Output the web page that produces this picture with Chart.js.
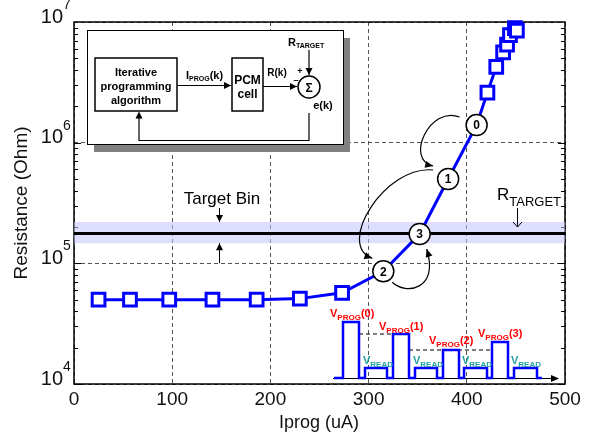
<!DOCTYPE html>
<html>
<head>
<meta charset="utf-8">
<script src="https://cdn.jsdelivr.net/npm/chart.js@4.4.0/dist/chart.umd.min.js"></script>
<style>body{margin:0;background:#fff}</style>
</head>
<body>
<canvas id="chart" width="592" height="437"></canvas>
<script>
// measured points (squares)
const iprogMeas = [25, 57, 97, 141, 186, 230, 273, 421, 430, 437, 441, 444, 449, 451];
const resMeas = [5.0e4, 5.0e4, 5.0e4, 5.0e4, 5.0e4, 5.1e4, 5.7e4, 2.6e6, 4.25e6, 5.6e6, 6.5e6, 7.8e6, 8.9e6, 8.5e6];
// programming iterations k = 0..3 (circles)
const iterLabels = ['0', '1', '2', '3'];
const iterIprog = [410, 381, 315, 352];
const iterRes = [1.4e6, 5.0e5, 8.6e4, 1.75e5];
// target resistance and its bin
const rTarget = 1.77e5;
const binHigh = 2.2e5;
const binLow = 1.47e5;
const xRange = [0, 500];
const yTicks = [1e4, 1e5, 1e6, 1e7];

const FONT = '"Liberation Sans", Arial, sans-serif';

let curve = iprogMeas.map((x, i) => ({x: x, y: resMeas[i], sq: true}))
  .concat(iterIprog.map((x, i) => ({x: x, y: iterRes[i], sq: false})))
  .sort((a, b) => a.x - b.x);

const head = (ctx, x, y, ang, len, w) => {
  ctx.beginPath();
  ctx.moveTo(x, y);
  ctx.lineTo(x - len * Math.cos(ang) + w * Math.sin(ang), y - len * Math.sin(ang) - w * Math.cos(ang));
  ctx.lineTo(x - len * Math.cos(ang) - w * Math.sin(ang), y - len * Math.sin(ang) + w * Math.cos(ang));
  ctx.closePath();
  ctx.fill();
}

// text with subscript pieces: [text, font, dy]
const subText = (ctx, x, y, parts, align) => {
  let w = 0;
  parts.forEach(p => { ctx.font = p[1]; w += ctx.measureText(p[0]).width });
  let cx = align === 'center' ? x - w / 2 : x;
  ctx.textAlign = 'left';
  parts.forEach(p => {
    ctx.font = p[1];
    ctx.fillText(p[0], cx, y + (p[2] || 0));
    cx += ctx.measureText(p[0]).width;
  });
}

const arrowLine = (ctx, x1, y1, x2, y2) => {
  ctx.beginPath(); ctx.moveTo(x1, y1); ctx.lineTo(x2, y2); ctx.stroke();
  head(ctx, x2, y2, Math.atan2(y2 - y1, x2 - x1), 7, 3.5);
}

const curveArrow = (ctx, p0, c1, c2, p1) => {
  ctx.beginPath();
  ctx.moveTo(p0[0], p0[1]);
  ctx.bezierCurveTo(c1[0], c1[1], c2[0], c2[1], p1[0], p1[1]);
  ctx.stroke();
  head(ctx, p1[0], p1[1], Math.atan2(p1[1] - c2[1], p1[0] - c2[0]), 8, 3.5);
}

const deco = {
  id: 'deco',
  beforeDatasetsDraw(chart) {
    const {ctx, chartArea: a, scales: {y}} = chart;
    ctx.save();
    ctx.strokeStyle = '#000';
    ctx.lineWidth = 1;
    for (let d = 4; d < 7; d++) {
      for (let m = 1; m < 10; m++) {
        const py = Math.round(y.getPixelForValue(m * Math.pow(10, d))) + 0.5;
        const len = m === 1 ? 7 : 4;
        ctx.beginPath();
        ctx.moveTo(a.left, py); ctx.lineTo(a.left + len, py);
        ctx.moveTo(a.right, py); ctx.lineTo(a.right - len, py);
        ctx.stroke();
      }
    }
    ctx.lineWidth = 1.5;
    ctx.strokeRect(a.left, a.top, a.right - a.left, a.bottom - a.top);
    ctx.restore();
  },
  afterDatasetsDraw(chart) {
    const {ctx, chartArea: a, scales: {y}} = chart;
    const pts = chart.getDatasetMeta(0).data;
    ctx.save();
    ctx.fillStyle = '#000';
    ctx.font = 'bold 12px ' + FONT;
    ctx.textAlign = 'center';
    ctx.textBaseline = 'middle';
    pts.forEach((p, i) => ctx.fillText(iterLabels[i], p.x, p.y + 1));

    // iteration arrows
    const c = pts.map(p => [p.x, p.y]);
    ctx.strokeStyle = '#000';
    ctx.lineWidth = 1.2;
    curveArrow(ctx, [c[0][0] - 17, c[0][1] - 8], [c[0][0] - 47, c[0][1] - 20], [c[0][0] - 72, c[0][1] + 35], [c[1][0] - 15, c[1][1] - 13]);
    curveArrow(ctx, [c[1][0] - 15, c[1][1] - 9], [c[1][0] - 63, c[1][1] - 14], [c[2][0] - 48, c[2][1] - 26], [c[2][0] - 11, c[2][1] - 13]);
    curveArrow(ctx, [c[2][0] + 9, c[2][1] + 11], [c[2][0] + 22, c[2][1] + 24], [c[3][0] + 20, c[3][1] + 56], [c[3][0] + 7, c[3][1] + 15]);

    // target bin annotation
    const yHi = y.getPixelForValue(binHigh), yLo = y.getPixelForValue(binLow);
    ctx.lineWidth = 1;
    ctx.font = '17px ' + FONT;
    ctx.textBaseline = 'alphabetic';
    ctx.fillText('Target Bin', 222, 204);
    arrowLine(ctx, 219.5, 208, 219.5, yHi);
    arrowLine(ctx, 219.5, yLo + 20, 219.5, yLo);

    subText(ctx, 497, 200, [['R', '17px ' + FONT], ['TARGET', '13px ' + FONT, 6]]);
    ctx.beginPath();
    ctx.moveTo(517.5, 208); ctx.lineTo(517.5, yHi + 5);
    ctx.moveTo(513, yHi); ctx.lineTo(517.5, yHi + 5); ctx.lineTo(522, yHi);
    ctx.stroke();
    ctx.restore();
  },
  afterDraw(chart) {
    const {ctx, chartArea: a, scales: {y}} = chart;
    ctx.save();
    ctx.fillStyle = '#111';
    ctx.textBaseline = 'middle';
    yTicks.forEach(v => {
      const py = y.getPixelForValue(v);
      ctx.font = '20px ' + FONT;
      ctx.textAlign = 'right';
      ctx.fillText('10', 63, py - 5);
      ctx.font = '14px ' + FONT;
      ctx.textAlign = 'left';
      ctx.fillText(String(Math.round(Math.log10(v))), 63, py - 17);
    });
    ctx.textAlign = 'center';
    ctx.font = '18px ' + FONT;
    ctx.fillText('Iprog (uA)', 319, 423);
    ctx.save();
    ctx.translate(22, 203);
    ctx.rotate(-Math.PI / 2);
    ctx.font = '19px ' + FONT;
    ctx.fillText('Resistance (Ohm)', 0, 0);
    ctx.restore();

    // inset: feedback loop block diagram
    ctx.fillStyle = '#808080';
    ctx.fillRect(94, 38, 256, 114);
    ctx.fillStyle = '#fff';
    ctx.fillRect(87, 30, 256, 114);
    ctx.strokeStyle = '#000';
    ctx.lineWidth = 1;
    ctx.strokeRect(87.5, 30.5, 256, 114);
    ctx.lineWidth = 1.5;
    ctx.strokeRect(95, 58, 82, 53);
    ctx.strokeRect(232, 58, 31, 53);
    ctx.beginPath(); ctx.arc(309, 87, 11, 0, Math.PI * 2); ctx.stroke();
    ctx.fillStyle = '#000';
    ctx.textBaseline = 'alphabetic';
    ctx.textAlign = 'center';
    ctx.font = 'bold 11px ' + FONT;
    ctx.fillText('Iterative', 136, 76);
    ctx.fillText('programming', 136, 89.5);
    ctx.fillText('algorithm', 136, 103.5);
    ctx.font = 'bold 12px ' + FONT;
    ctx.fillText('PCM', 247.5, 84);
    ctx.fillText('cell', 247.5, 97.5);
    ctx.fillText('\u03A3', 309, 91.5);
    ctx.lineWidth = 1.2;
    arrowLine(ctx, 177, 85.5, 231, 85.5);
    arrowLine(ctx, 263, 86.5, 297, 86.5);
    arrowLine(ctx, 309, 50, 309, 75);
    ctx.beginPath();
    ctx.moveTo(309, 113); ctx.lineTo(309, 140.5); ctx.lineTo(139, 140.5); ctx.lineTo(139, 118);
    ctx.stroke();
    head(ctx, 139, 111.5, -Math.PI / 2, 7, 3.5);
    subText(ctx, 186, 79, [['I', 'bold 11px ' + FONT], ['PROG', 'bold 7px ' + FONT, 2], ['(k)', 'bold 11px ' + FONT]]);
    ctx.font = 'bold 10px ' + FONT;
    ctx.textAlign = 'center';
    ctx.fillText('R(k)', 277, 76);
    ctx.font = 'bold 11px ' + FONT;
    ctx.fillText('e(k)', 323, 109);
    ctx.font = 'bold 9px ' + FONT;
    ctx.fillText('+', 300, 74);
    ctx.fillText('\u2013', 296, 83);
    subText(ctx, 288, 46, [['R', 'bold 11px ' + FONT], ['TARGET', 'bold 7px ' + FONT, 2]]);

    // inset: programming / read pulse train
    const base = 378;
    const pulses = [[343, 359, 322], [365, 387, 368], [393, 409, 334], [415, 437, 368],
                    [443, 459, 350], [464, 487, 368], [492, 508, 342], [514, 537, 368]];
    ctx.lineWidth = 1;
    ctx.beginPath(); ctx.moveTo(333, base + 0.5); ctx.lineTo(552, base + 0.5); ctx.stroke();
    head(ctx, 559, base + 0.5, 0, 8, 3.5);
    ctx.setLineDash([4, 3]);
    ctx.beginPath();
    ctx.moveTo(359, 334); ctx.lineTo(393, 334);
    ctx.moveTo(409, 350); ctx.lineTo(492, 350);
    ctx.stroke();
    ctx.setLineDash([]);
    ctx.strokeStyle = '#0000ff';
    ctx.lineWidth = 2.5;
    ctx.beginPath();
    ctx.moveTo(334, base);
    pulses.forEach(p => { ctx.lineTo(p[0], base); ctx.lineTo(p[0], p[2]); ctx.lineTo(p[1], p[2]); ctx.lineTo(p[1], base) });
    ctx.lineTo(542, base);
    ctx.stroke();
    ctx.fillStyle = '#ff0000';
    [[330, 317], [379, 330], [429, 344], [478, 337]].forEach((p, k) => {
      subText(ctx, p[0], p[1], [['V', 'bold 11px ' + FONT], ['PROG', 'bold 8px ' + FONT, 3], ['(' + k + ')', 'bold 11px ' + FONT]]);
    });
    ctx.fillStyle = '#20a0a0';
    [363, 413, 462, 511].forEach(x => {
      subText(ctx, x, 364, [['V', 'bold 11px ' + FONT], ['READ', 'bold 8px ' + FONT, 3]]);
    });
    ctx.restore();
  }
};

new Chart(document.getElementById('chart'), {
  type: 'line',
  data: {
    datasets: [
      {
        // iteration circles
        data: iterIprog.map((x, i) => ({x: x, y: iterRes[i]})),
        showLine: false,
        pointStyle: 'circle',
        pointRadius: 10.5,
        pointBackgroundColor: '#fff',
        pointBorderColor: '#000',
        pointBorderWidth: 1.5,
        order: 0
      },
      {
        data: curve.map(p => ({x: p.x, y: p.y})),
        borderColor: '#0000ff',
        borderWidth: 3,
        pointStyle: 'rect',
        pointRadius: curve.map(p => p.sq ? 9 : 0),
        pointBackgroundColor: '#fff',
        pointBorderColor: '#0000ff',
        pointBorderWidth: 3,
        clip: false,
        order: 1
      },
      {
        data: [{x: xRange[0], y: rTarget}, {x: xRange[1], y: rTarget}],
        borderColor: '#000',
        borderWidth: 3,
        pointRadius: 0,
        order: 2
      },
      {
        data: [{x: xRange[0], y: binHigh}, {x: xRange[1], y: binHigh}],
        borderWidth: 0,
        pointRadius: 0,
        fill: '+1',
        backgroundColor: 'rgba(195,195,255,0.55)',
        order: 3
      },
      {
        data: [{x: xRange[0], y: binLow}, {x: xRange[1], y: binLow}],
        borderWidth: 0,
        pointRadius: 0,
        order: 4
      }
    ]
  },
  options: {
    responsive: false,
    animation: false,
    layout: {padding: {top: 22, right: 27, left: 0, bottom: 0}},
    plugins: {legend: {display: false}, tooltip: {enabled: false}},
    scales: {
      x: {
        type: 'linear',
        min: xRange[0],
        max: xRange[1],
        ticks: {stepSize: 100, color: '#111', padding: 4, font: {size: 19, family: FONT}},
        grid: {color: '#555', drawTicks: false},
        border: {display: false, dash: [4, 3]},
        afterFit: s => { s.height = 53 }
      },
      y: {
        type: 'logarithmic',
        min: yTicks[0],
        max: yTicks[yTicks.length - 1],
        afterBuildTicks: s => { s.ticks = yTicks.map(v => ({value: v})) },
        ticks: {display: false},
        grid: {color: '#555', drawTicks: false},
        border: {display: false, dash: [4, 3]},
        afterFit: s => { s.width = 74 }
      }
    }
  },
  plugins: [deco]
});
</script>
</body>
</html>
